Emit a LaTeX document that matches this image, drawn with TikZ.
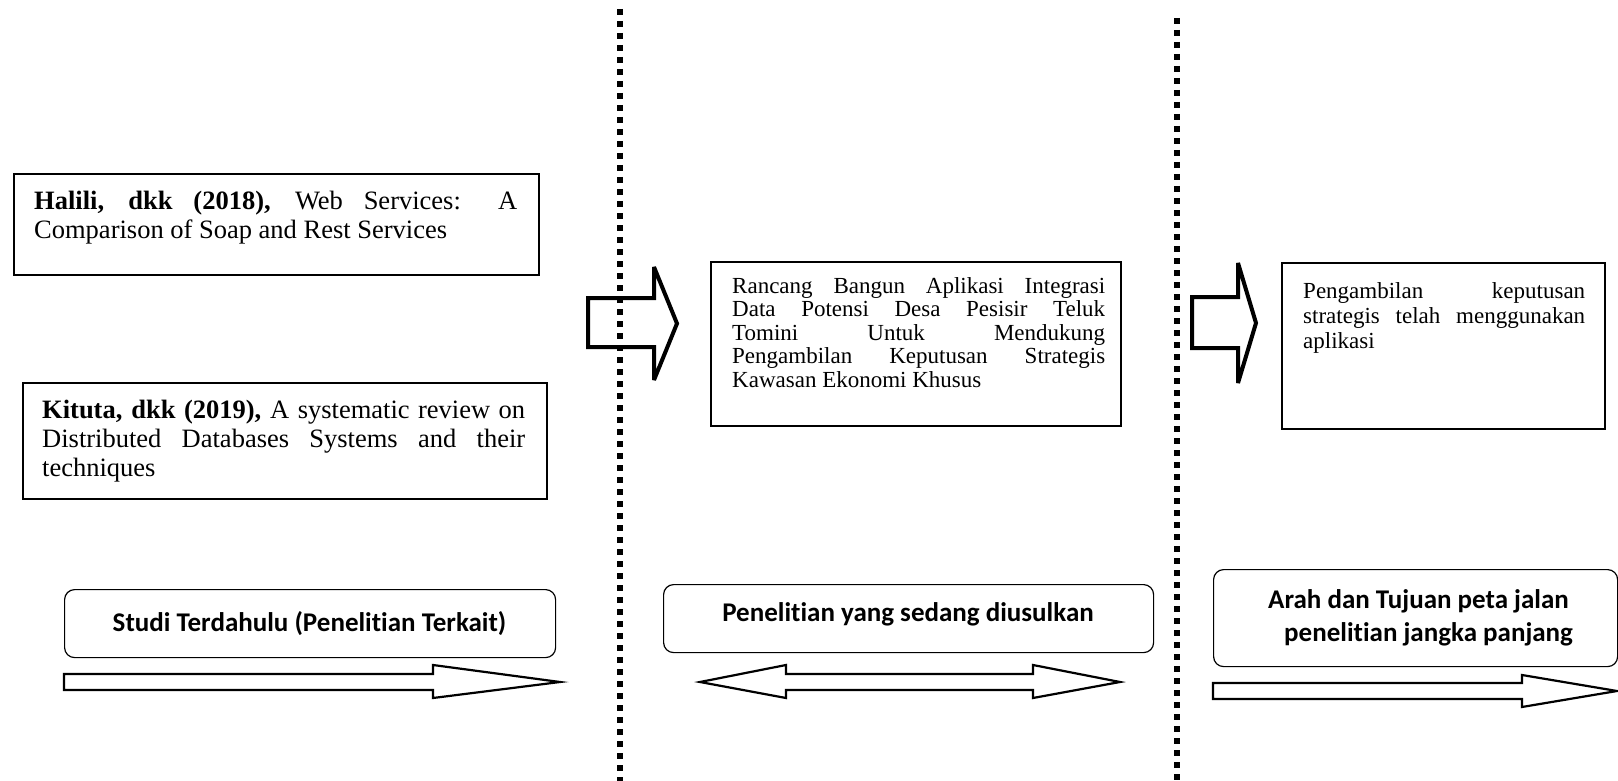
\documentclass[tikz,border=0pt]{standalone}
\usepackage{fontspec}
\setmainfont{Liberation Serif}
\newfontfamily\calfont[Ligatures=NoCommon]{Carlito}
\begin{document}
\begin{tikzpicture}[x=1pt,y=-1pt,
  refbox/.style={draw, line width=1.6pt, rectangle, inner sep=0pt, anchor=north west},
  capbox/.style={draw, line width=1.2pt, rounded corners=10pt, inner sep=0pt, anchor=north west},
  bigtext/.style={inner sep=0pt, anchor=base west, align=justify,
    font=\fontsize{26.5}{29}\selectfont},
  smalltext/.style={inner sep=0pt, anchor=base west, align=justify,
    font=\fontsize{23}{23.5}\selectfont},
  captext/.style={inner sep=0pt, font=\calfont\bfseries\fontsize{27}{33}\selectfont},
  blockarrow/.style={draw, line width=4pt, line join=miter, miter limit=2},
  flatarrow/.style={draw, line width=2.2pt, line join=miter},
  dotline/.style={line width=6pt, dash pattern=on 6pt off 6pt}
]
\useasboundingbox (0,0) rectangle (1618,781);

% literature boxes
\node[refbox, minimum width=525pt, minimum height=101pt] (halili) at (13,173) {};
\node[bigtext, text width=483pt] (halilitxt) at (34,209)
  {\textbf{Halili, dkk (2018),} Web Services: A\linebreak Comparison of Soap and Rest Services};
\node[refbox, minimum width=524pt, minimum height=116pt] (kituta) at (22,382) {};
\node[bigtext, text width=483pt] (kitutatxt) at (42,418)
  {\textbf{Kituta, dkk (2019),} A systematic review on\linebreak Distributed Databases Systems and their\linebreak techniques};

% proposed research box
\node[refbox, minimum width=410pt, minimum height=164pt] (rancang) at (710,261) {};
\node[smalltext, text width=373pt] (rancangtxt) at (732,293)
  {Rancang Bangun Aplikasi Integrasi\linebreak Data Potensi Desa Pesisir Teluk\linebreak Tomini Untuk Mendukung\linebreak Pengambilan Keputusan Strategis\linebreak Kawasan Ekonomi Khusus};

% long-term goal box
\node[refbox, minimum width=323pt, minimum height=166pt] (goal) at (1281,262) {};
\node[smalltext, text width=282pt, font=\fontsize{23}{25.5}\selectfont] (goaltxt) at (1303,298)
  {Pengambilan keputusan\linebreak strategis telah menggunakan\linebreak aplikasi};

% block arrows between the columns
\draw[blockarrow] (588,298) -- (654,298) -- (654,267) -- (677,323.5) -- (654,380) -- (654,347) -- (588,347) -- cycle;
\draw[blockarrow] (1192,297) -- (1238,297) -- (1238,263) -- (1256,323) -- (1238,383) -- (1238,348) -- (1192,348) -- cycle;

% column captions
\node[capbox, minimum width=491pt, minimum height=68pt] (studi) at (64,589) {};
\node[captext, anchor=base] (studitxt) at (309.5,631) {Studi Terdahulu (Penelitian Terkait)};
\node[capbox, minimum width=490pt, minimum height=68pt] (usul) at (663,584) {};
\node[captext, anchor=base] (usultxt) at (908,621) {Penelitian yang sedang diusulkan};
\node[capbox, minimum width=404pt, minimum height=97pt] (arah) at (1213,569) {};
\node[captext, anchor=base west, align=left] (arahtxt) at (1268,641)
  {Arah dan Tujuan peta jalan\\\hspace*{16pt}penelitian jangka panjang};

% timeline arrows
\draw[flatarrow] (64,674) -- (433,674) -- (433,665) -- (560,682) -- (433,698) -- (433,690) -- (64,690) -- cycle;
\draw[flatarrow] (700,682) -- (786,665) -- (786,674) -- (1033,674) -- (1033,665) -- (1120,682)
  -- (1033,698) -- (1033,690) -- (786,690) -- (786,698) -- cycle;
\draw[flatarrow] (1213,683) -- (1522,683) -- (1522,675) -- (1617,691) -- (1522,707) -- (1522,699) -- (1213,699) -- cycle;

% column separators
\coordinate (sepAtop) at (620,9);
\coordinate (sepAbot) at (620,781);
\coordinate (sepBtop) at (1177,18);
\coordinate (sepBbot) at (1177,781);
\draw[dotline] (sepAtop) -- (sepAbot);
\draw[dotline] (sepBtop) -- (sepBbot);
\end{tikzpicture}
\end{document}
